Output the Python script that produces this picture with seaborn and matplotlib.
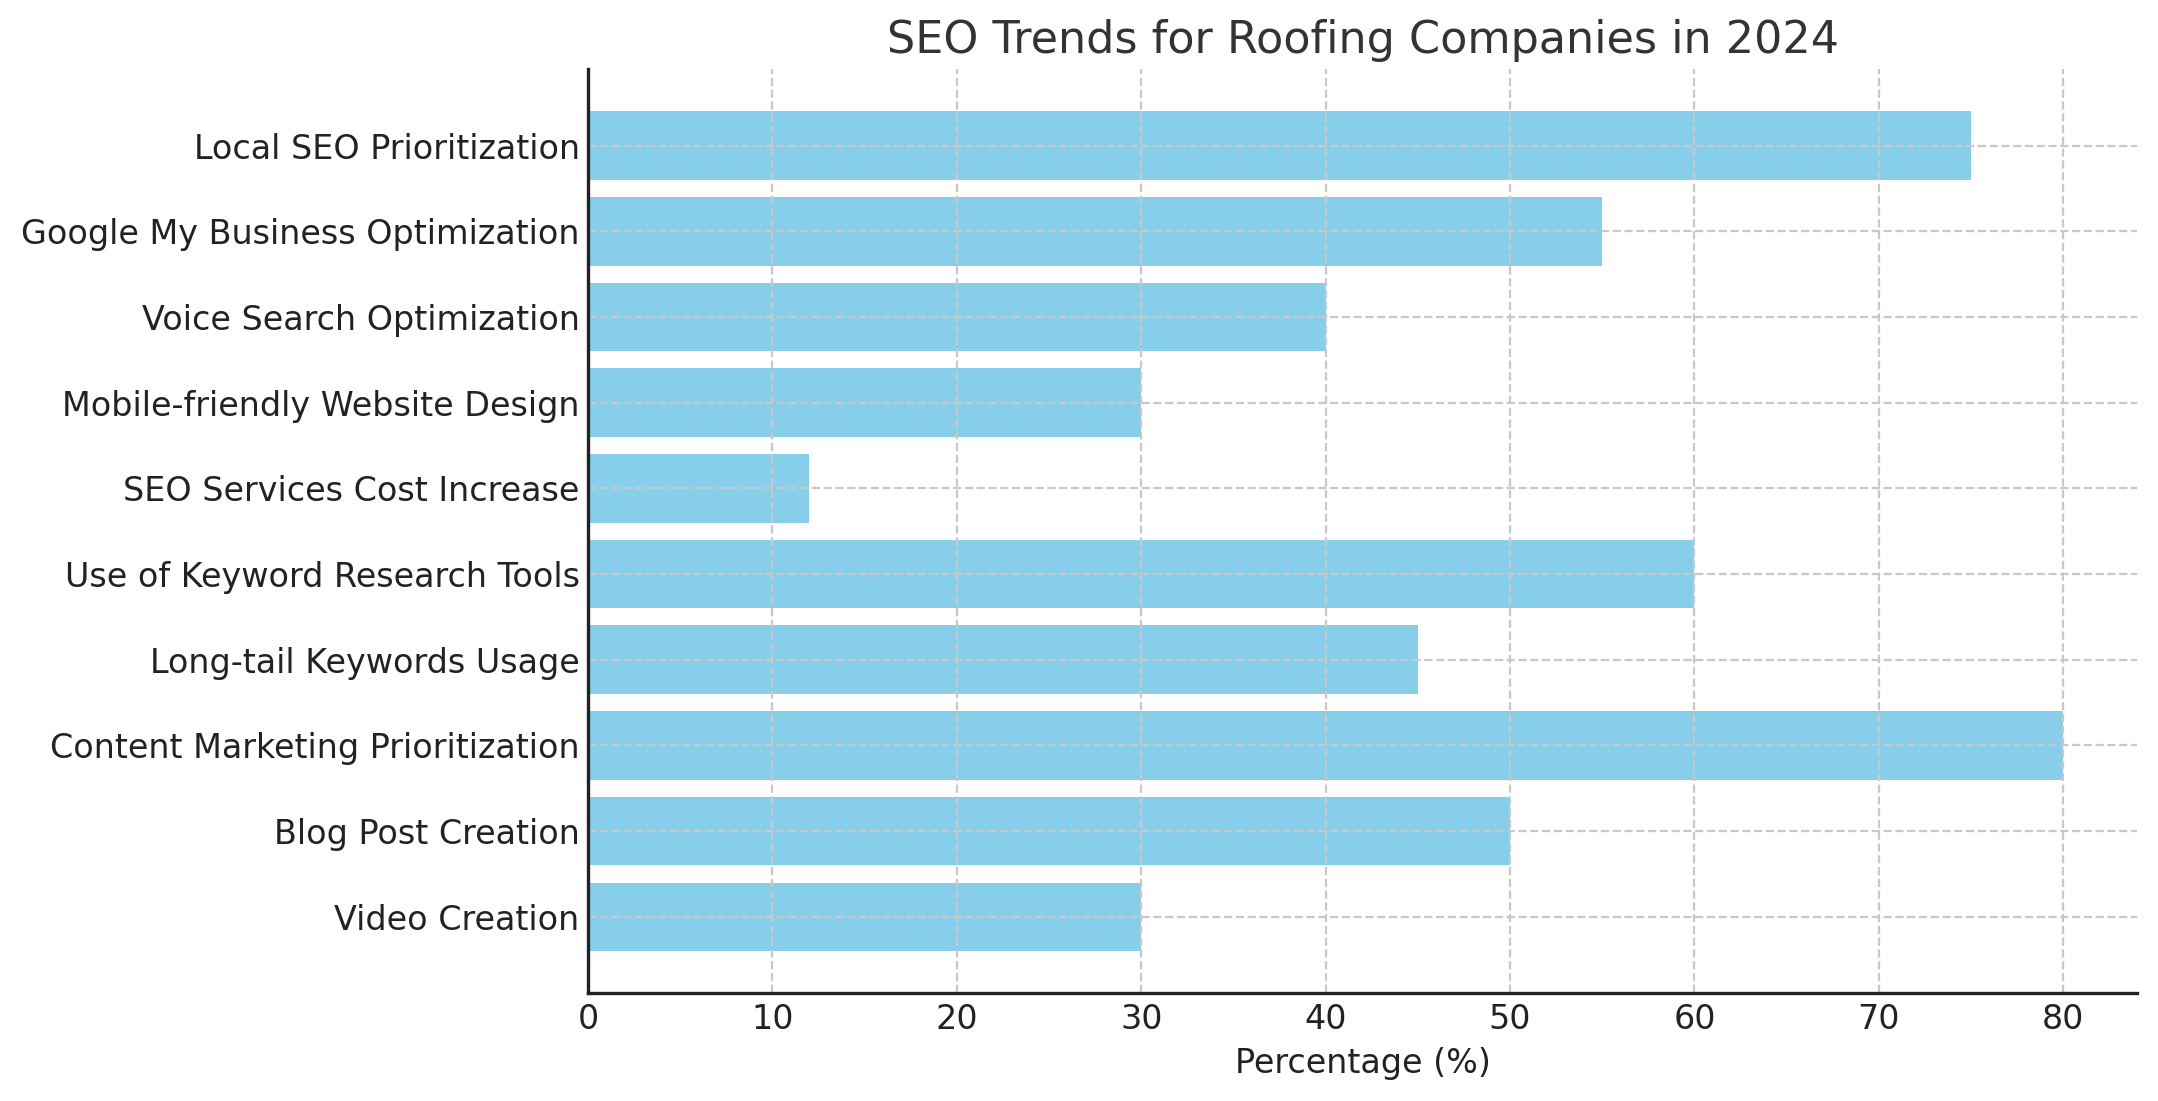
import pandas as pd
import matplotlib
matplotlib.use("Agg")
import matplotlib.pyplot as plt
import seaborn as sns

# Data
trends = [
    "Local SEO Prioritization",
    "Google My Business Optimization",
    "Voice Search Optimization",
    "Mobile-friendly Website Design",
    "SEO Services Cost Increase",
    "Use of Keyword Research Tools",
    "Long-tail Keywords Usage",
    "Content Marketing Prioritization",
    "Blog Post Creation",
    "Video Creation",
]
percentages = [75, 55, 40, 30, 12, 60, 45, 80, 50, 30]
x_ticks = [0, 10, 20, 30, 40, 50, 60, 70, 80]

df = pd.DataFrame({"Trend": trends, "Percentage": percentages})

sns.set_style("white")
plt.rcParams["font.family"] = ["DejaVu Sans"]

fig = plt.figure(figsize=(10.79, 5.505), dpi=200)
ax = fig.add_axes([0.2725, 0.098, 0.7178, 0.839])

sns.barplot(data=df, x="Percentage", y="Trend", color="skyblue",
            saturation=1, width=0.8, orient="h", ax=ax, zorder=2,
            linewidth=0)

# Grid drawn over the bars, dashed light grey
ax.set_axisbelow(False)
ax.grid(True, linestyle="--", color="#c8c8c8", linewidth=0.8, zorder=3)

ax.set_xlim(0, 84)
ax.set_ylim(len(trends) - 1 + 0.89, -0.89)
ax.set_xticks(x_ticks)

ax.set_title("SEO Trends for Roofing Companies in 2024", fontsize=16, color="#333333", pad=6)
ax.set_xlabel("Percentage (%)", fontsize=12, color="#222222", labelpad=4)
ax.set_ylabel("")

ax.tick_params(axis="both", direction="in", length=3.5, width=1.2, colors="#222222",
               labelsize=12, labelcolor="#222222")
ax.tick_params(axis="y", pad=3)

for side in ["top", "right"]:
    ax.spines[side].set_visible(False)
for side in ["left", "bottom"]:
    ax.spines[side].set_color("#222222")
    ax.spines[side].set_linewidth(1.2)
    ax.spines[side].set_zorder(5)

fig.savefig("out.png", dpi=200)
